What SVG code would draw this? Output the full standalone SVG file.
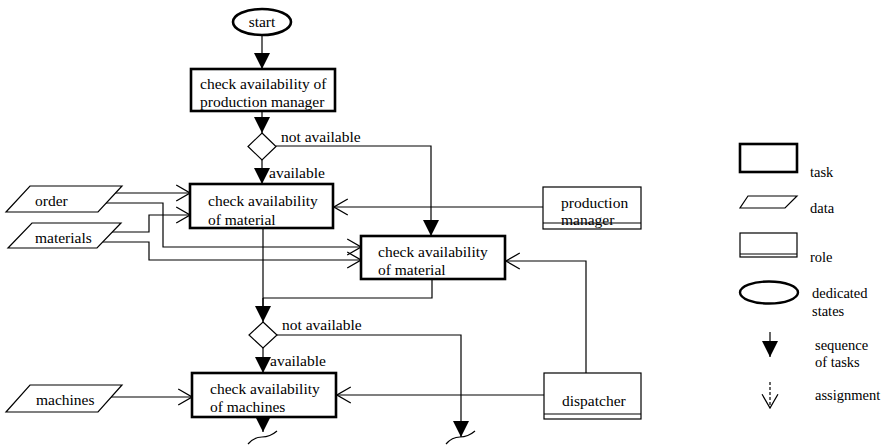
<svg xmlns="http://www.w3.org/2000/svg" width="887" height="445" viewBox="0 0 887 445" font-family="'Liberation Serif', 'Times New Roman', 'DejaVu Serif', serif">
<defs>
<style>
text{font-family:'Liberation Serif','Times New Roman','DejaVu Serif',serif;fill:#000}
.lbl{font-size:15.5px}
.sm{font-size:14.5px}
.task{fill:#fff;stroke:#000;stroke-width:2.6}
.thin{fill:#fff;stroke:#000;stroke-width:1.2}
.ln{fill:none;stroke:#000;stroke-width:1.2}
.seq{marker-end:url(#seq)}
.asg{marker-end:url(#asg)}
</style>
<marker id="seq" markerUnits="userSpaceOnUse" markerWidth="16" markerHeight="16" viewBox="0 0 14 14" refX="14" refY="7" orient="auto">
<path d="M0,0 L14,7 L0,14 z" fill="#000"/>
</marker>
<marker id="asg" markerUnits="userSpaceOnUse" markerWidth="16" markerHeight="18" viewBox="-1 -1 15 17" refX="13" refY="7.5" orient="auto">
<path d="M0,0 L13,7.5 L0,15" fill="none" stroke="#000" stroke-width="1.2"/>
</marker>
</defs>
<rect x="0" y="0" width="887" height="445" fill="#fff"/>

<g id="connectors">
<line class="ln seq" x1="262" y1="35" x2="262" y2="69"/>
<line class="ln seq" x1="262" y1="111" x2="262" y2="133"/>
<line class="ln seq" x1="262" y1="160" x2="262" y2="184"/>
<polyline class="ln seq" points="276,146 431,146 431,236"/>
<line class="ln" x1="263" y1="229" x2="263" y2="310"/>
<polyline class="ln" points="432,279 432,298 263,298"/>
<line class="ln seq" x1="263" y1="298" x2="263" y2="322"/>
<polyline class="ln seq" points="277,335 461,335 461,437"/>
<line class="ln seq" x1="263" y1="347" x2="263" y2="373"/>
<line class="ln seq" x1="263" y1="417" x2="263" y2="432"/>
<path class="ln" d="M248,444 Q254,437 262,437 Q270,437 277,431"/>
<path class="ln" d="M446,444 Q452,437 460,437 Q468,437 475,431"/>
<line class="ln asg" x1="115" y1="193" x2="190" y2="193"/>
<polyline class="ln asg" points="106,203 163,203 163,247 361,247"/>
<polyline class="ln asg" points="112,232 149,232 149,215 190,215"/>
<polyline class="ln asg" points="103,242 149,242 149,260 361,260"/>
<line class="ln asg" x1="543" y1="207" x2="334" y2="207"/>
<polyline class="ln asg" points="586,373 586,261 506,261"/>
<line class="ln asg" x1="544" y1="395" x2="337" y2="395"/>
<line class="ln asg" x1="111" y1="397" x2="192" y2="397"/>
</g>

<g id="label-not-available-1"><text class="lbl" x="281" y="142">not available</text></g>
<g id="label-available-1"><text class="lbl" x="269" y="178">available</text></g>
<g id="label-not-available-2"><text class="lbl" x="282" y="330">not available</text></g>
<g id="label-available-2"><text class="lbl" x="270" y="366">available</text></g>

<g id="start">
<ellipse cx="262" cy="22" rx="29" ry="13" fill="#fff" stroke="#000" stroke-width="2.6"/>
<text class="lbl" x="262" y="27" text-anchor="middle">start</text>
</g>

<g id="task-production-manager">
<rect class="task" x="191" y="69" width="144" height="42"/>
<text class="lbl" x="200" y="89">check availability of</text>
<text class="lbl" x="200" y="107">production manager</text>
</g>

<g id="decision-1">
<polygon class="thin" points="262,133 276,146.5 262,160 248,146.5"/>
</g>

<g id="task-material-1">
<rect class="task" x="190" y="184" width="143" height="44"/>
<text class="lbl" x="208" y="206">check availability</text>
<text class="lbl" x="208" y="225">of material</text>
</g>

<g id="task-material-2">
<rect class="task" x="361" y="236" width="144" height="43"/>
<text class="lbl" x="378" y="257">check availability</text>
<text class="lbl" x="378" y="275">of material</text>
</g>

<g id="decision-2">
<polygon class="thin" points="263,322 277,335 263,348 249,335"/>
</g>

<g id="task-machines">
<rect class="task" x="192" y="373" width="144" height="44"/>
<text class="lbl" x="210" y="394">check availability</text>
<text class="lbl" x="210" y="412">of machines</text>
</g>

<g id="data-order">
<polygon class="thin" points="30,186 122,186 98,212 6,212"/>
<text class="lbl" x="35" y="206">order</text>
</g>
<g id="data-materials">
<polygon class="thin" points="32,223 121,223 97,248 8,248"/>
<text class="lbl" x="35" y="243">materials</text>
</g>
<g id="data-machines">
<polygon class="thin" points="30,385 122,385 98,412 6,412"/>
<text class="lbl" x="36" y="405">machines</text>
</g>

<g id="role-production-manager">
<rect class="thin" x="543" y="187" width="98" height="42"/>
<line class="ln" x1="543" y1="223" x2="641" y2="223"/>
<text class="lbl" x="561" y="208">production</text>
<text class="lbl" x="561" y="225">manager</text>
</g>

<g id="role-dispatcher">
<rect class="thin" x="544" y="373" width="97" height="46"/>
<line class="ln" x1="544" y1="414" x2="641" y2="414"/>
<text class="lbl" x="562" y="406">dispatcher</text>
</g>

<g id="legend">
<rect class="task" x="740" y="144" width="57" height="28"/>
<text class="sm" x="810" y="177">task</text>
<polygon class="thin" points="748,196 797,196 785,208 740,208"/>
<text class="sm" x="810" y="213">data</text>
<rect class="thin" x="740" y="233" width="57" height="24"/>
<line class="ln" x1="740" y1="254" x2="797" y2="254"/>
<text class="sm" x="810" y="262">role</text>
<ellipse cx="769" cy="292.5" rx="29" ry="11" fill="#fff" stroke="#000" stroke-width="2.4"/>
<text class="sm" x="812" y="298">dedicated</text>
<text class="sm" x="812" y="316">states</text>
<line class="ln seq" x1="770" y1="332" x2="770" y2="357"/>
<text class="sm" x="815" y="350">sequence</text>
<text class="sm" x="815" y="367">of tasks</text>
<line class="ln asg" x1="770" y1="382" x2="770" y2="408" stroke-dasharray="3,2"/>
<text class="sm" x="815" y="400">assignment</text>
</g>
</svg>
